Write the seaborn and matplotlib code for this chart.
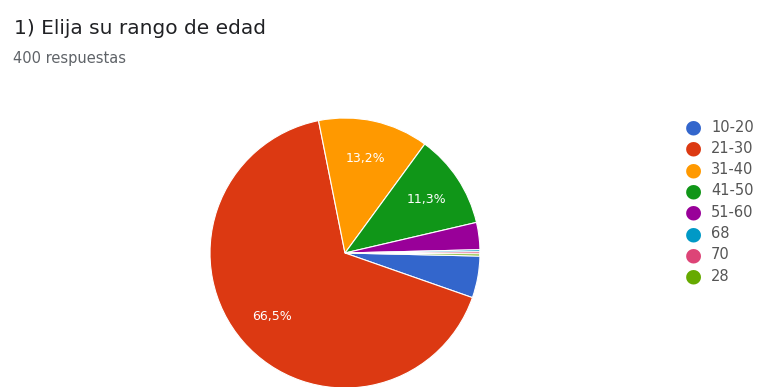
import matplotlib
matplotlib.use("Agg")
import numpy as np
import matplotlib.pyplot as plt
import seaborn as sns

# Age-range survey answers, share of the 400 responses (%)
categories = ["10-20", "21-30", "31-40", "41-50", "51-60", "68", "70", "28"]
shares = [5.0, 66.5, 13.2, 11.3, 3.25, 0.25, 0.25, 0.25]
colors = ["#3366cc", "#dc3912", "#ff9900", "#109618", "#990099",
          "#0099c6", "#dd4477", "#66aa00"]

title = "1) Elija su rango de edad"
subtitle = "400 respuestas"

sns.set_theme(style="white")
plt.rcParams["font.family"] = ["DejaVu Sans"]
palette = sns.color_palette(colors)

W, H = 762, 387
fig = plt.figure(figsize=(W / 100, H / 100), dpi=100)
fig.patch.set_facecolor("white")

# Pie axes: centre at (345, 253) px from top-left, radius 135 px
cx, cy, r = 345, 253, 135
ax = fig.add_axes([(cx - r) / W, (H - cy - r) / H, 2 * r / W, 2 * r / H])

wedges, _ = ax.pie(
    shares,
    colors=palette,
    startangle=-1.3,
    counterclock=False,
    wedgeprops=dict(edgecolor="white", linewidth=0.8),
)

# Percentage labels inside the larger slices (decimal comma)
for w, s in zip(wedges, shares):
    if s < 8:
        continue
    mid = np.deg2rad((w.theta1 + w.theta2) / 2)
    ax.text(0.72 * np.cos(mid), 0.72 * np.sin(mid),
            f"{s:.1f}%".replace(".", ","), color="white", fontsize=9,
            ha="center", va="center")

ax.set_xlim(-1, 1)
ax.set_ylim(-1, 1)
ax.set_aspect("equal")
ax.axis("off")

fig.text(14 / W, 1 - 29 / H, title, fontsize=14.5, color="#202124",
         va="center", ha="left")
fig.text(13 / W, 1 - 59 / H, subtitle, fontsize=10.5, color="#5f6368",
         va="center", ha="left")

# Legend column on the right
lx, ly0, dy = 693, 127, 21.3
for i, (lab, col) in enumerate(zip(categories, palette)):
    y = 1 - (ly0 + i * dy) / H
    fig.text(lx / W, y, "\u25CF", color=col, fontsize=14, ha="center",
             va="center")
    fig.text(711 / W, y, lab, color="#555555", fontsize=10.5, ha="left",
             va="center")

fig.savefig("out.png", dpi=100, facecolor="white")
